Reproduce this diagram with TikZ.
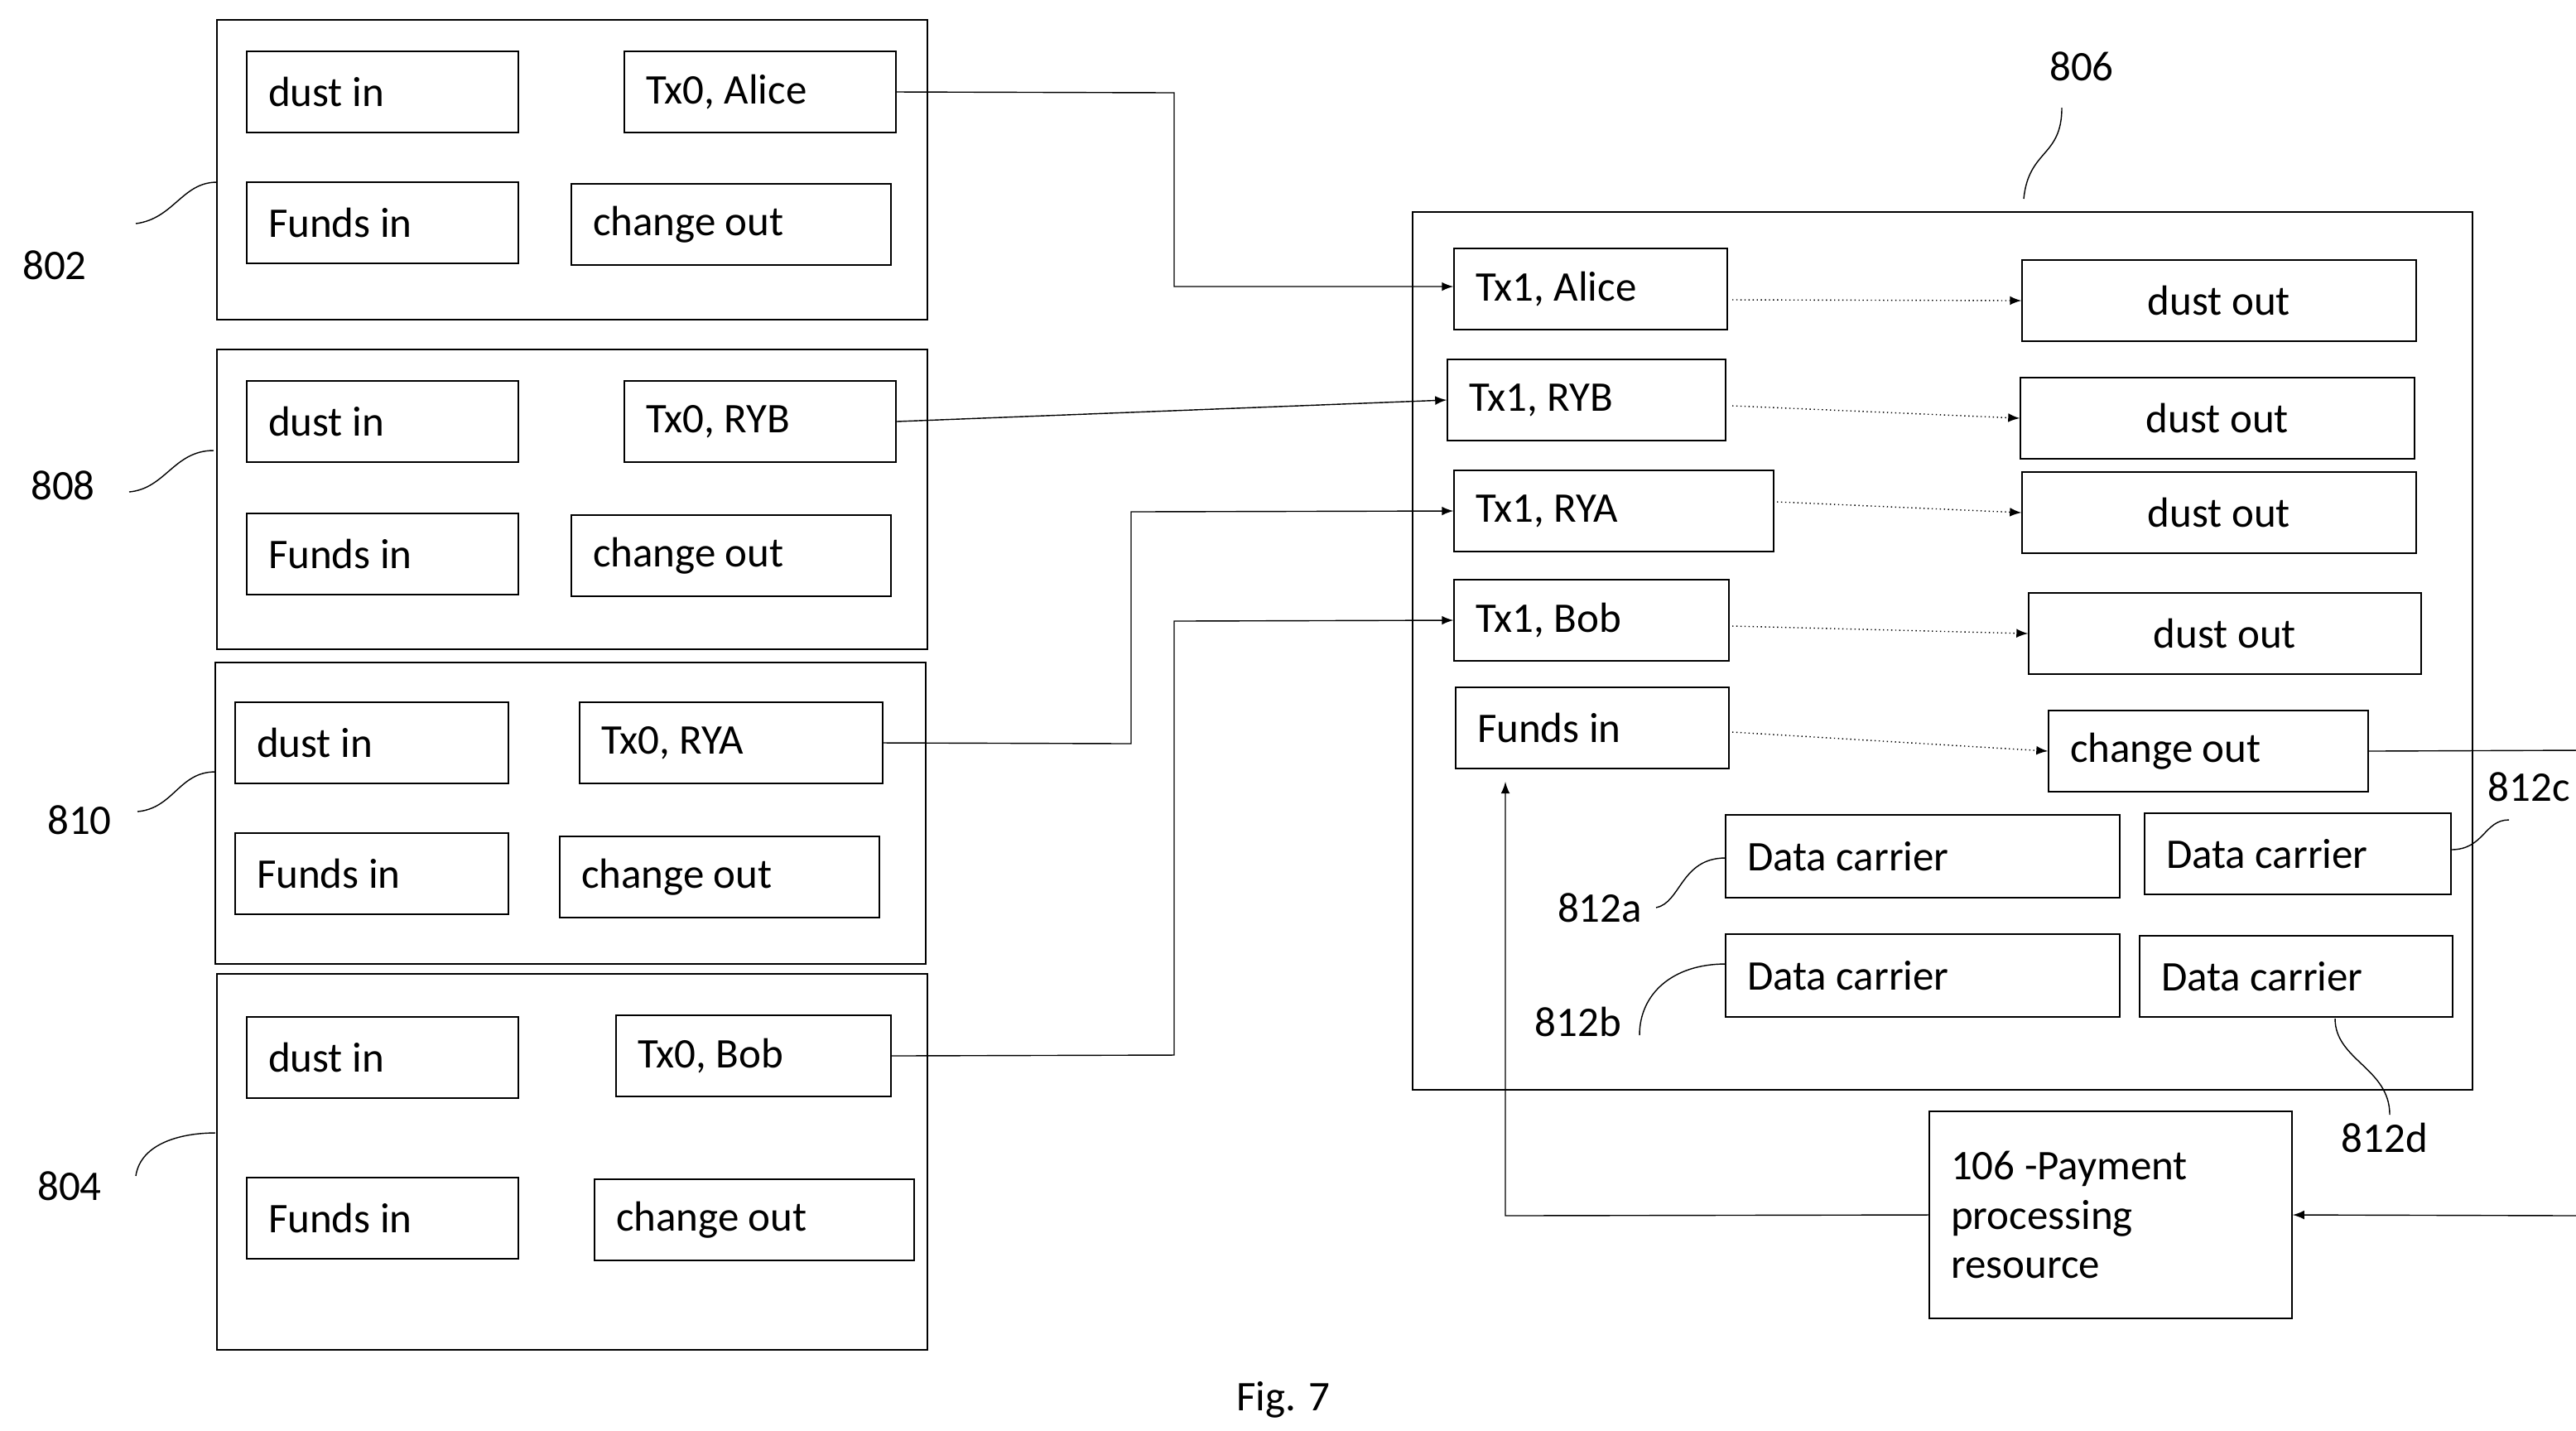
\documentclass[tikz,border=0pt]{standalone}
\usepackage{fontspec}
\setmainfont{Carlito}
\usetikzlibrary{fit}
\tikzset{
  frame/.style={draw, thick, inner sep=0pt},
  cell/.style={draw, inner sep=0pt},
  txt/.style={anchor=west, inner sep=0pt, font=\fontsize{14.5}{17}\selectfont},
  link/.style={->, >=latex},
  dotlink/.style={->, >=latex, densely dotted},
  lead/.style={thin}
}
% box with left aligned text
\newcommand{\cellL}[6]{%
  \node[cell, fit={(#2,#3) (#4,#5)}] (#1) {};
  \node[txt] (#1t) at ([xshift=2.6mm]#1.west) {#6};}
% box with centred text
\newcommand{\cellC}[6]{%
  \node[cell, fit={(#2,#3) (#4,#5)}] (#1) {};
  \node[txt, anchor=center] (#1t) at (#1.center) {#6};}
\begin{document}
\begin{tikzpicture}[x=0.2mm, y=-0.2mm]
\useasboundingbox (0,0) rectangle (1555.5,863.5);
% left-hand transactions
\node[frame, fit={(131,12) (560,193)}] (f802) {};
\cellL{di1}{149}{31}{313}{80}{dust in}
\cellL{tA}{377}{31}{541}{80}{Tx0, Alice}
\cellL{fi1}{149}{110}{313}{159}{Funds in}
\cellL{co1}{345}{111}{538}{160}{change out}
\node[frame, fit={(131,211) (560,392)}] (f808) {};
\cellL{di2}{149}{230}{313}{279}{dust in}
\cellL{tB}{377}{230}{541}{279}{Tx0, RYB}
\cellL{fi2}{149}{310}{313}{359}{Funds in}
\cellL{co2}{345}{311}{538}{360}{change out}
\node[frame, fit={(130,400) (559,582)}] (f810) {};
\cellL{di3}{142}{424}{307}{473}{dust in}
\cellL{tC}{350}{424}{533}{473}{Tx0, RYA}
\cellL{fi3}{142}{503}{307}{552}{Funds in}
\cellL{co3}{338}{505}{531}{554}{change out}
\node[frame, fit={(131,588) (560,815)}] (f804) {};
\cellL{di4}{149}{614}{313}{663}{dust in}
\cellL{tD}{372}{613}{538}{662}{Tx0, Bob}
\cellL{fi4}{149}{711}{313}{760}{Funds in}
\cellL{co4}{359}{712}{552}{761}{change out}
% right-hand transaction
\node[cell, fit={(853,128) (1493,658)}] (f806) {};
\cellL{uA}{878}{150}{1043}{199}{Tx1, Alice}
\cellL{uB}{874}{217}{1042}{266}{Tx1, RYB}
\cellL{uC}{878}{284}{1071}{333}{Tx1, RYA}
\cellL{uD}{878}{350}{1044}{399}{Tx1, Bob}
\cellL{uF}{879}{415}{1044}{464}{Funds in}
\cellC{oA}{1221}{157}{1459}{206}{dust out}
\cellC{oB}{1220}{228}{1458}{277}{dust out}
\cellC{oC}{1221}{285}{1459}{334}{dust out}
\cellC{oD}{1225}{358}{1462}{407}{dust out}
\cellL{oF}{1237}{429}{1430}{478}{change out}
\cellL{dA}{1042}{492}{1280}{542}{Data carrier}
\cellL{dC}{1295}{491}{1480}{540}{Data carrier}
\cellL{dB}{1042}{564}{1280}{614}{Data carrier}
\cellL{dD}{1292}{565}{1481}{614}{Data carrier}
\node[cell, fit={(1165,671) (1384,796)}] (pay) {};
\node[txt, align=left] (payt) at ([xshift=2.6mm]pay.west) {106 -Payment\\processing\\resource};
% connectors
\draw[link] (tA.east) -- (709,56) -- (709,173) -- (uA.west |- 0,173);
\draw[link] (tB.east) -- (uB.west);
\draw[link] (tC.east) -- (683,449) -- (683,309) -- (uC.west);
\draw[link] (tD.east) -- (709,637) -- (709,375) -- (uD.west);
\draw[dotlink] (1046,181) -- (oA.west);
\draw[dotlink] (1046,245) -- (oB.west);
\draw[dotlink] (1073,303) -- (oC.west);
\draw[dotlink] (1046,378) -- (oD.west);
\draw[dotlink] (1046,442) -- (oF.west);
\draw[link] (oF.east) -- (1557,453) -- (1557,734) -- (pay.east);
\draw[link] (pay.west) -- (909,734) -- (909,472);
% reference labels
\node[txt, anchor=center] (l802) at (33,160) {802};
\node[txt, anchor=center] (l808) at (38,293) {808};
\node[txt, anchor=center] (l810) at (48,495) {810};
\node[txt, anchor=center] (l804) at (42,716) {804};
\node[txt, anchor=center] (l806) at (1257,40) {806};
\node[txt, anchor=center] (l812a) at (966,548) {812a};
\node[txt, anchor=center] (l812b) at (953,617) {812b};
\node[txt, anchor=center] (l812c) at (1527,475) {812c};
\node[txt, anchor=center] (l812d) at (1440,687) {812d};
\node[txt, anchor=center] (fig) at (775,845) {Fig. 7};
\draw[lead] (82,135) .. controls (105,132) and (110,110) .. (131,110);
\draw[lead] (78,297) .. controls (100,295) and (105,272) .. (129,272);
\draw[lead] (83,490) .. controls (105,488) and (108,466) .. (130,466);
\draw[lead] (82,710) .. controls (85,690) and (110,684) .. (130,684);
\draw[lead] (1222,120) .. controls (1225,90) and (1245,95) .. (1245,65);
\draw[lead] (1000,548) .. controls (1015,545) and (1015,518) .. (1042,518);
\draw[lead] (990,625) .. controls (990,600) and (1010,582) .. (1042,582);
\draw[lead] (1480,513) .. controls (1500,513) and (1500,495) .. (1515,495);
\draw[lead] (1410,615) .. controls (1410,640) and (1443,645) .. (1443,673);
\end{tikzpicture}
\end{document}
